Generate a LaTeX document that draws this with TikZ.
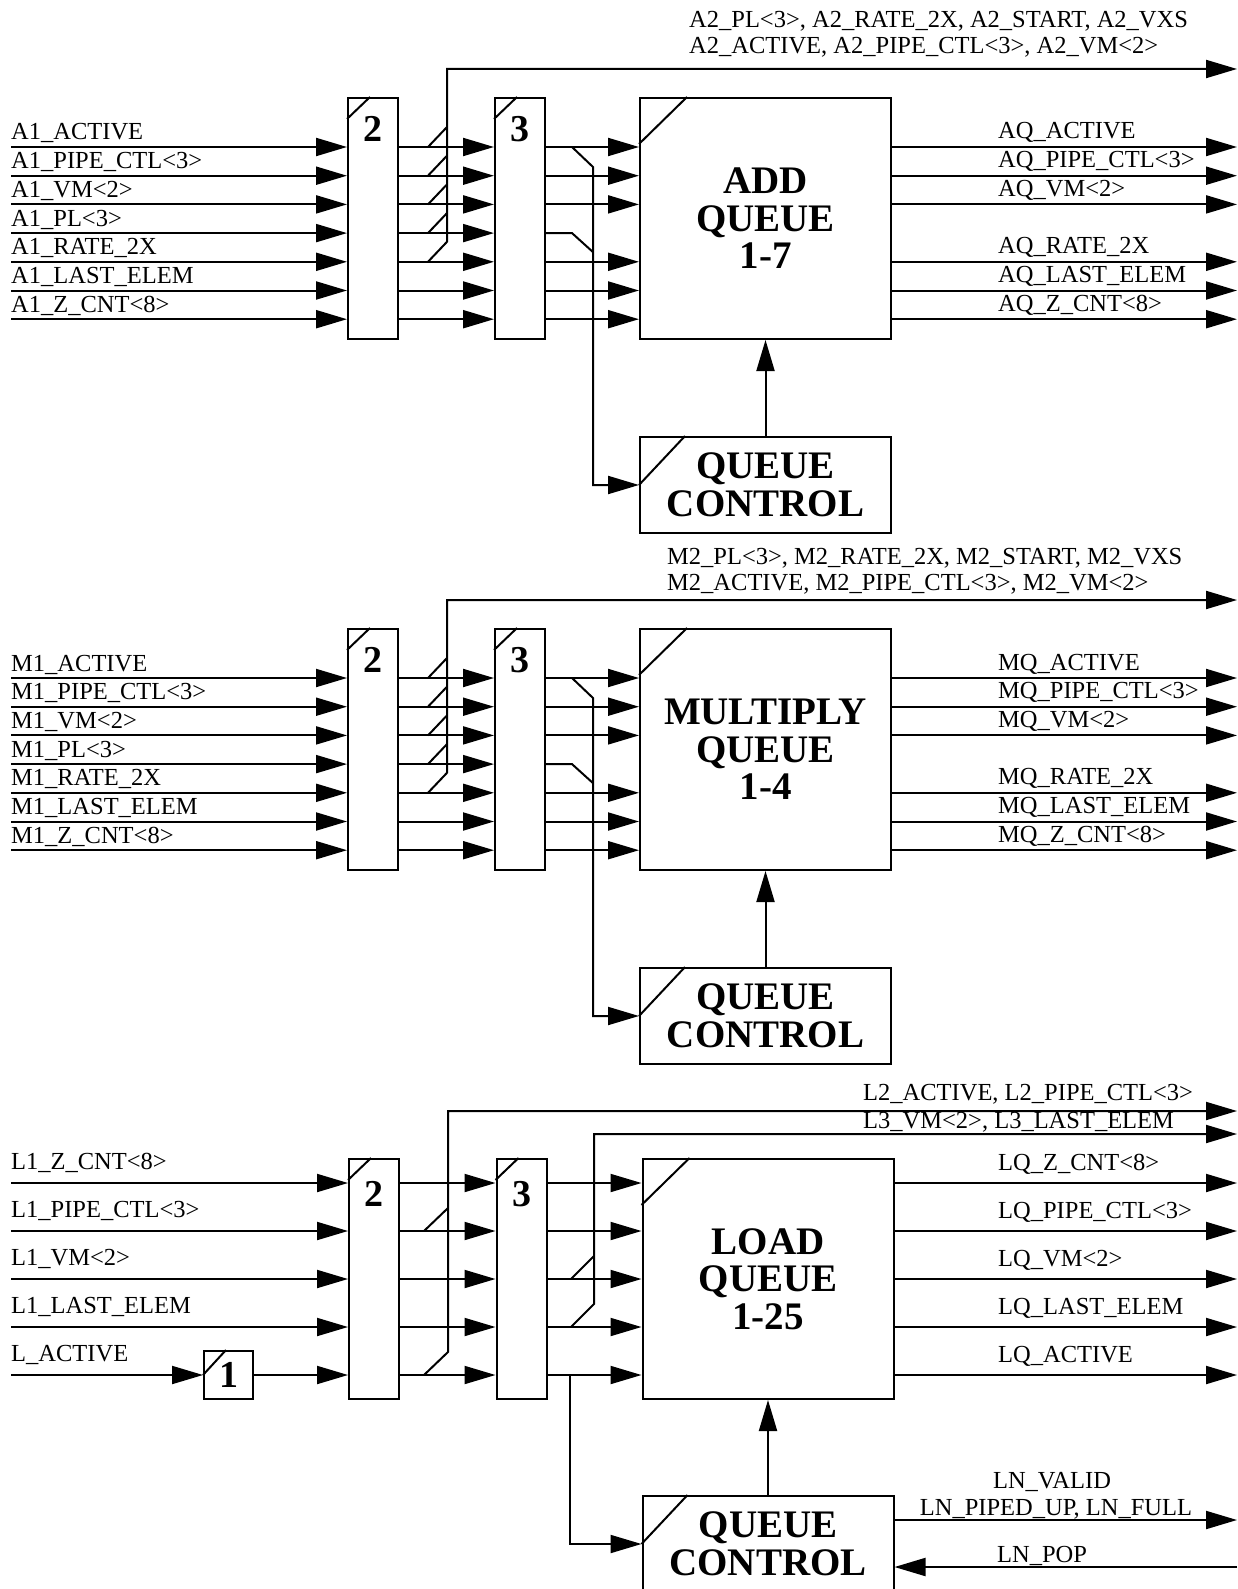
\documentclass[tikz,border=0pt]{standalone}
\usepackage{fontspec}
\setmainfont{Liberation Serif}
\usetikzlibrary{arrows.meta}

\tikzset{
  wire/.style={line width=2pt},
  sig/.style={wire, -{Triangle[length=31pt,width=18pt]}},
  regbox/.style={draw, line width=2pt, inner sep=0pt, minimum width=50pt, minimum height=241pt},
  quebox/.style={draw, line width=2pt, inner sep=0pt, minimum width=251pt, minimum height=241pt,
    font=\fontsize{39}{37.5}\selectfont\bfseries, align=center},
  ctlbox/.style={quebox, minimum height=96pt},
  num/.style={font=\fontsize{38}{38}\selectfont\bfseries, inner sep=0pt},
  lbl/.style={font=\fontsize{24.5}{26}\selectfont, inner sep=0pt, anchor=base west},
}

% one add/multiply pipe: #1 name prefix, #2 signal letter, #3 queue title, #4/#5 bus label spot
\newcommand{\arithpipe}[5]{%
  \foreach \i/\y in {1/147,2/175.7,3/204.4,4/233.1,5/261.8,6/290.5,7/319.2}
    \coordinate (#1in\i) at (11,\y);
  \coordinate (#1tapx) at (428,0);
  \coordinate (#1dropx) at (572,0);
  \coordinate (#1outx) at (998,0);
  \coordinate (#1endx) at (1237,0);
  \coordinate (#1bus) at (447,69);
  \coordinate (#1busend) at (1237,69);
  \node[regbox] (#1r2) at (373,218.5) {};
  \node[regbox] (#1r3) at (520,218.5) {};
  \node[quebox] (#1q) at (765.5,218.5) {#3};
  \node[ctlbox] (#1ctl) at (765.5,485) {QUEUE\\CONTROL};
  \node[num] (#1n2) at ([yshift=-32pt]#1r2.north) {2};
  \node[num] (#1n3) at ([yshift=-32pt]#1r3.north) {3};
  \draw[wire] ([yshift=-22pt]#1r2.north west) -- ([xshift=23pt]#1r2.north west);
  \draw[wire] ([yshift=-22pt]#1r3.north west) -- ([xshift=23pt]#1r3.north west);
  \draw[wire] ([yshift=-47pt]#1q.north west) -- ([xshift=48pt]#1q.north west);
  \draw[wire] (#1ctl.west) -- ([xshift=46pt]#1ctl.north west);
  % inputs
  \foreach \i/\t in {1/#21\_ACTIVE,2/#21\_PIPE\_CTL<3>,3/#21\_VM<2>,4/#21\_PL<3>,
      5/#21\_RATE\_2X,6/#21\_LAST\_ELEM,7/#21\_Z\_CNT<8>}{
    \node[lbl] (#1l\i) at ([yshift=7pt]#1in\i) {\t};
    \draw[sig] (#1in\i) -- (#1in\i -| #1r2.west);
    \draw[sig] (#1in\i -| #1r2.east) -- (#1in\i -| #1r3.west);
  }
  \foreach \i in {1,2,3,5,6,7}
    \draw[sig] (#1in\i -| #1r3.east) -- (#1in\i -| #1q.west);
  % second stage taps
  \foreach \i in {1,...,4}
    \draw[wire] (#1in\i -| #1tapx) -- ++(19,-20);
  \draw[sig] (#1in5 -| #1tapx) -- ++(19,-20) -- (#1bus) -- (#1busend);
  \node[lbl] (#1b1) at (#4,#5) {#22\_PL<3>, #22\_RATE\_2X, #22\_START, #22\_VXS};
  \node[lbl] (#1b2) at (#4,#5+26) {#22\_ACTIVE, #22\_PIPE\_CTL<3>, #22\_VM<2>};
  % queue control feed
  \draw[wire] (#1in4 -| #1r3.east) -- (#1in4 -| #1dropx) -- ++(21,19);
  \draw[sig] (#1in1 -| #1dropx) -- ++(21,20) |- (#1ctl.west);
  \draw[sig] (#1ctl.north) -- (#1q.south);
  % outputs
  \foreach \i/\t in {1/#2Q\_ACTIVE,2/#2Q\_PIPE\_CTL<3>,3/#2Q\_VM<2>,
      5/#2Q\_RATE\_2X,6/#2Q\_LAST\_ELEM,7/#2Q\_Z\_CNT<8>}{
    \draw[sig] (#1in\i -| #1q.east) -- (#1in\i -| #1endx);
    \node[lbl] (#1o\i) at ([yshift=8pt]#1in\i -| #1outx) {\t};
  }
}

\begin{document}
\begin{tikzpicture}[x=1pt,y=-1pt]
\useasboundingbox (0,0) rectangle (1237,1589);
\clip (0,0) rectangle (1237,1589);

\arithpipe{a}{A}{ADD\\QUEUE\\1-7}{689}{28}

\begin{scope}[yshift=-531pt]
\arithpipe{m}{M}{MULTIPLY\\QUEUE\\1-4}{667}{33}
\end{scope}

% load pipe
\foreach \i/\y in {1/1183,2/1231,3/1279,4/1327,5/1375}
  \coordinate (lin\i) at (11,\y);
\coordinate (louty) at (998,0);
\coordinate (lendx) at (1237,0);
\node[regbox, minimum height=240pt] (lr2) at (374,1279) {};
\node[regbox, minimum height=240pt] (lr3) at (521.5,1279) {};
\node[quebox, minimum height=240pt] (lq) at (768,1279) {LOAD\\QUEUE\\1-25};
\node[ctlbox] (lctl) at (768,1544) {QUEUE\\CONTROL};
\node[regbox, num, minimum width=49pt, minimum height=48pt] (lr1) at (228.5,1375) {1};
\node[num] (ln2) at ([yshift=-36pt]lr2.north) {2};
\node[num] (ln3) at ([yshift=-36pt]lr3.north) {3};
\draw[wire] ([yshift=-22pt]lr2.north west) -- ([xshift=23pt]lr2.north west);
\draw[wire] ([yshift=-22pt]lr3.north west) -- ([xshift=23pt]lr3.north west);
\draw[wire] ([yshift=-47pt]lq.north west) -- ([xshift=48pt]lq.north west);
\draw[wire] (lctl.west) -- ([xshift=46pt]lctl.north west);
\draw[wire] (lr1.west) -- ([xshift=23pt]lr1.north west);

\foreach \i/\t in {1/L1\_Z\_CNT<8>,2/L1\_PIPE\_CTL<3>,3/L1\_VM<2>,4/L1\_LAST\_ELEM,5/L\_ACTIVE}
  \node[lbl] (ll\i) at ([yshift=14pt]lin\i) {\t};
\foreach \i in {1,...,4}
  \draw[sig] (lin\i) -- (lin\i -| lr2.west);
\draw[sig] (lin5) -- (lr1.west);
\draw[sig] (lr1.east) -- (lin5 -| lr2.west);
\foreach \i in {1,...,5}{
  \draw[sig] (lin\i -| lr2.east) -- (lin\i -| lr3.west);
  \draw[sig] (lin\i -| lr3.east) -- (lin\i -| lq.west);
}

% second and third stage taps
\coordinate (ltapa) at (424,0);
\coordinate (lbusa) at (448,1111);
\coordinate (lbusaend) at (1237,1111);
\draw[wire] (lin2 -| ltapa) -- ++(24,-23);
\draw[sig] (lin5 -| ltapa) -- ++(24,-23) -- (lbusa) -- (lbusaend);
\coordinate (ltapb) at (571,0);
\coordinate (lbusb) at (594,1134);
\coordinate (lbusbend) at (1237,1134);
\draw[wire] (lin3 -| ltapb) -- ++(23,-23);
\draw[sig] (lin4 -| ltapb) -- ++(23,-23) -- (lbusb) -- (lbusbend);
\node[lbl] (lb1) at (863,1100) {L2\_ACTIVE, L2\_PIPE\_CTL<3>};
\node[lbl] (lb2) at (863,1128) {L3\_VM<2>, L3\_LAST\_ELEM};

% queue control
\coordinate (ldrop) at (570,1375);
\draw[sig] (ldrop) |- (lctl.west);
\draw[sig] (lctl.north) -- (lq.south);

\foreach \i/\t in {1/LQ\_Z\_CNT<8>,2/LQ\_PIPE\_CTL<3>,3/LQ\_VM<2>,4/LQ\_LAST\_ELEM,5/LQ\_ACTIVE}{
  \draw[sig] (lin\i -| lq.east) -- (lin\i -| lendx);
  \node[lbl] (lo\i) at ([yshift=13pt]lin\i -| louty) {\t};
}

\coordinate (lnout) at (1237,1520);
\coordinate (lnin) at (1237,1567);
\draw[sig] (lctl.east |- lnout) -- (lnout);
\draw[sig] (lnin) -- (lctl.east |- lnin);
\node[lbl, anchor=base] (lnv) at (1052,1488) {LN\_VALID};
\node[lbl, anchor=base] (lnp) at (1056,1515) {LN\_PIPED\_UP, LN\_FULL};
\node[lbl] (lnpop) at (997,1562) {LN\_POP};
\end{tikzpicture}
\end{document}
